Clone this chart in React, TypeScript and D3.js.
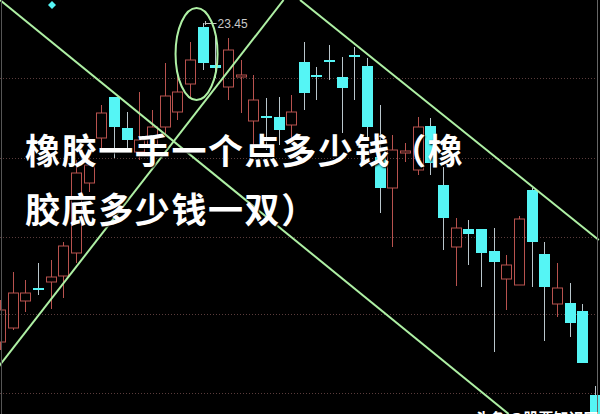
import * as d3 from "d3";

// candle values (price units, 23.45 = marked high)
const opens = [17.07, 17.35, 17.89, 18.15, 18.27, 18.39, 18.85, 20.25, 21.15, 21.97, 21.35, 20.87, 21.01, 21.37, 21.67, 22.23, 23.37, 22.61, 22.17, 22.37, 21.49, 21.59, 21.57, 21.41, 22.67, 22.41, 22.71, 22.37, 22.81, 22.59, 20.77, 20.15, 20.85, 20.51, 21.39, 20.21, 18.97, 19.33, 19.33, 18.89, 18.33, 18.21, 20.11, 18.83, 17.83, 17.85, 17.69, 16.01];
const highs = [17.91, 18.47, 18.31, 18.65, 18.71, 19.07, 20.71, 20.91, 21.81, 21.97, 21.67, 22.07, 21.71, 22.65, 22.41, 23.07, 23.45, 23.17, 23.15, 22.71, 22.41, 21.95, 21.97, 22.01, 23.07, 22.57, 23.01, 22.77, 22.97, 22.75, 21.81, 21.21, 21.05, 21.57, 21.55, 20.57, 19.55, 19.51, 19.33, 19.35, 18.81, 19.59, 20.15, 19.07, 18.65, 18.25, 17.83, 16.19];
const lows = [16.91, 17.31, 17.67, 18.01, 17.73, 17.95, 18.65, 20.07, 20.91, 20.75, 20.91, 20.71, 20.51, 21.21, 21.51, 21.97, 22.51, 22.35, 21.91, 21.65, 20.91, 20.91, 21.01, 21.11, 21.71, 21.91, 22.31, 21.25, 21.91, 21.11, 19.65, 18.97, 20.67, 20.41, 20.41, 18.91, 18.19, 18.61, 18.17, 16.87, 17.71, 18.21, 18.17, 17.09, 17.57, 17.17, 16.65, 15.51];
const closes = [17.71, 18.05, 18.05, 18.11, 18.37, 18.99, 20.45, 20.61, 21.65, 21.37, 21.11, 21.11, 21.37, 21.99, 22.07, 22.71, 22.65, 22.55, 22.91, 22.41, 21.91, 21.55, 21.31, 21.67, 22.05, 22.37, 22.67, 22.15, 22.77, 21.37, 20.15, 20.91, 20.89, 21.37, 20.65, 19.55, 19.35, 19.23, 18.85, 18.67, 18.61, 19.53, 19.07, 18.17, 18.15, 17.45, 16.65, 15.51];

const gridPrices = [22.35, 20.75, 19.17, 17.63, 16.05];
const trendLines = [
  { from: [0, 23.91], to: [40.18, 15.63] },
  { from: [-0.99, 16.29], to: [22.4, 23.91] },
  { from: [23.7, 23.91], to: [47.3, 19.11] },
];
const peakLabel = "23.45";
const titleLines = ["橡胶一手一个点多少钱（橡", "胶底多少钱一双）"];
const watermark = "头条 @股票知识网";

const W = 600;
const H = 414;
const UP = "#b8524e";
const DOWN = "#55f5f5";
const DOWN_WICK = "#b9c6cc";
const LINE = "#aef0a4";

export default function App() {
  const x = d3.scaleLinear().domain([0, 47]).range([0, 595]);
  const y = d3.scaleLinear().domain([15.63, 23.91]).range([H, 0]);
  const bw = 10;
  const peakIdx = highs.indexOf(d3.max(highs)!);

  return (
    <svg
      width={W}
      height={H}
      style={{ position: "absolute", left: 0, top: 0, display: "block", background: "#000" }}
    >
      <rect width={W} height={H} fill="#000" />

      {/* dotted price grid */}
      {gridPrices.map((p) => (
        <line
          key={p}
          x1={0}
          x2={W}
          y1={Math.round(y(p)) + 0.5}
          y2={Math.round(y(p)) + 0.5}
          stroke="#5a3c3c"
          strokeDasharray="1,2"
        />
      ))}

      {/* candles */}
      {opens.map((o, i) => {
        const c = closes[i];
        const up = c >= o;
        const cx = Math.round(x(i)) + 0.5;
        const top = y(Math.max(o, c));
        const bot = y(Math.min(o, c));
        const hgt = Math.max(bot - top, 1);
        return (
          <g key={i}>
            {up ? (
              <>
                <line x1={cx} x2={cx} y1={y(highs[i])} y2={top} stroke={UP} />
                <line x1={cx} x2={cx} y1={bot} y2={y(lows[i])} stroke={UP} />
                <rect
                  x={cx - bw / 2}
                  y={top}
                  width={bw}
                  height={hgt}
                  fill="none"
                  stroke={UP}
                />
              </>
            ) : (
              <>
                <line x1={cx} x2={cx} y1={y(highs[i])} y2={y(lows[i])} stroke={DOWN_WICK} />
                <rect
                  x={cx - bw / 2 - 0.5}
                  y={top}
                  width={bw + 1}
                  height={Math.max(hgt, 2)}
                  fill={DOWN}
                />
              </>
            )}
          </g>
        );
      })}

      {/* peak marker */}
      <line
        x1={x(peakIdx) + 2}
        x2={x(peakIdx) + 14}
        y1={y(highs[peakIdx]) + 0.5}
        y2={y(highs[peakIdx]) + 0.5}
        stroke="#c8c8c8"
      />
      <line
        x1={x(peakIdx) + 3}
        x2={x(peakIdx) + 3}
        y1={y(highs[peakIdx]) - 2}
        y2={y(highs[peakIdx]) + 2}
        stroke="#c8c8c8"
      />
      <text
        x={x(peakIdx) + 15}
        y={y(highs[peakIdx]) + 5}
        fill="#c8c8c8"
        fontSize={12}
        fontFamily="Liberation Sans, Arial, sans-serif"
      >
        {peakLabel}
      </text>

      {/* trend lines */}
      {trendLines.map((l, i) => (
        <line
          key={i}
          x1={x(l.from[0])}
          y1={y(l.from[1])}
          x2={x(l.to[0])}
          y2={y(l.to[1])}
          stroke={LINE}
          strokeWidth={2}
        />
      ))}

      {/* circle around the top */}
      <ellipse
        cx={x(peakIdx) - 6}
        cy={y(22.83)}
        rx={21}
        ry={46}
        fill="none"
        stroke={LINE}
        strokeWidth={2}
      />

      {/* top-left marker */}
      <path d="M52,1 L56,5 L52,9 L48,5 Z" fill={DOWN} />

      {/* frame edges */}
      <line x1={1.5} x2={1.5} y1={0} y2={H} stroke="#555" />
      <line x1={597.5} x2={597.5} y1={0} y2={H} stroke="#666" />

      {/* overlaid title */}
      {titleLines.map((t, i) => (
        <text
          key={t}
          x={25}
          y={164 + i * 59}
          fill="#fff"
          fontSize={35}
          fontWeight={700}
          letterSpacing={1.6}
          fontFamily="'Noto Sans CJK SC', sans-serif"
          style={{ textShadow: "1px 1px 2px #000" }}
        >
          {t}
        </text>
      ))}

      <text
        x={475}
        y={424}
        fill="#fff"
        fontSize={15}
        fontWeight={700}
        fontFamily="'Noto Sans CJK SC', sans-serif"
      >
        {watermark}
      </text>
    </svg>
  );
}
